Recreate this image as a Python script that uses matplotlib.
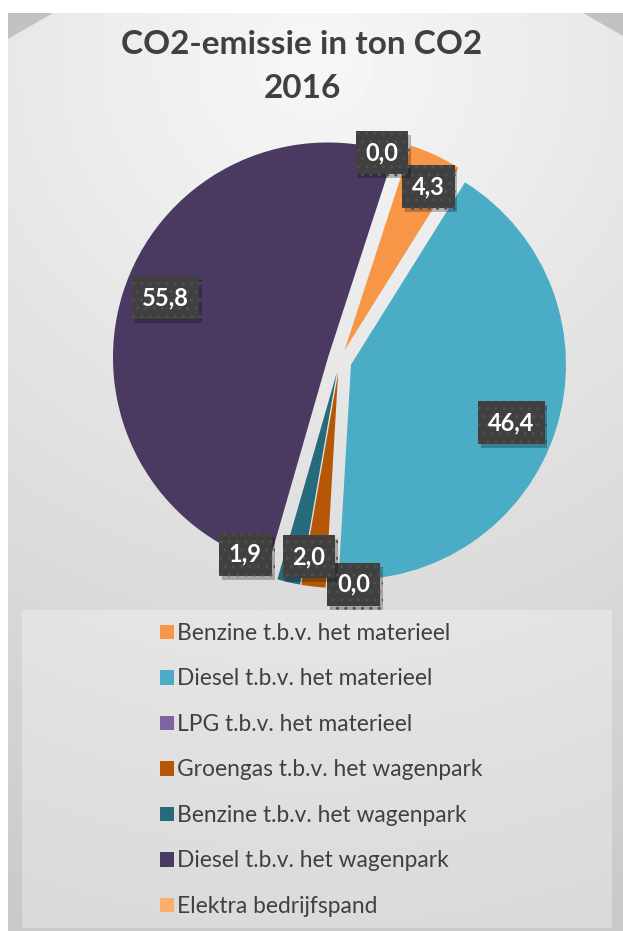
import numpy as np
import matplotlib
matplotlib.use('Agg')
import matplotlib.pyplot as plt
from matplotlib.patches import Polygon, Rectangle, Patch
import matplotlib.patheffects as pe

# data
categories = ['Benzine t.b.v. het materieel', 'Diesel t.b.v. het materieel',
              'LPG t.b.v. het materieel', 'Groengas t.b.v. het wagenpark',
              'Benzine t.b.v. het wagenpark', 'Diesel t.b.v. het wagenpark',
              'Elektra bedrijfspand']
emissions = [4.3, 46.4, 0.0, 2.0, 1.9, 55.8, 0.0]
colors = ['#F79646', '#4BACC6', '#8064A2', '#B65708', '#276A7C', '#4A3960', '#FAAE6E']
title_lines = ['CO2-emissie in ton CO2', '2016']

# label placement: (shift in degrees clockwise from wedge middle, distance in radii)
label_place = [(2, 0.91), (2, 0.85), (-7, 1.04), (2.3, 0.92), (13, 1.0), (3, 0.86), (-6.5, 0.99)]

W, H = 623, 931
plt.rcParams['font.family'] = ['Lato', 'DejaVu Sans']
fig = plt.figure(figsize=(W / 100, H / 100), dpi=100)
fig.patch.set_facecolor('white')

## background: chart area with soft gradient and bevelled corners
bg = fig.add_axes([0, 0, 1, 1])
x0, y0 = 8, 13
yy, xx = np.mgrid[y0:H, x0:W]
d = np.hypot(xx - 314, yy - 60)
shade = (247 - d * 46 / 910) / 255
bg.imshow(shade, cmap='gray', vmin=0, vmax=1, extent=(x0, W, H, y0),
          aspect='auto', zorder=0, interpolation='bilinear')
bg.add_patch(Polygon([(x0, y0), (53, y0), (x0, 39)], closed=True, fc='#c2c2c2', ec='none', zorder=1))
bg.add_patch(Polygon([(583, y0), (W, y0), (W, 36)], closed=True, fc='#c2c2c2', ec='none', zorder=1))
bg.add_patch(Rectangle((22, 610), 590, 318, fc='white', alpha=0.3, ec='none', zorder=1))
bg.set_xlim(0, W)
bg.set_ylim(H, 0)
bg.axis('off')

## pie
cx, cy, R = 339.5, 361, 215
pie_ax = fig.add_axes([(cx - 1.25 * R) / W, (H - cy - 1.25 * R) / H, 2.5 * R / W, 2.5 * R / H])
wedges, _ = pie_ax.pie(emissions, colors=colors, startangle=72, counterclock=False,
                       explode=[0.056] * len(emissions), wedgeprops=dict(linewidth=0))
pie_ax.set_xlim(-1.25, 1.25)
pie_ax.set_ylim(-1.25, 1.25)

for w, v, (shift, dist) in zip(wedges, emissions, label_place):
    mid = np.deg2rad((w.theta1 + w.theta2) / 2 - shift)
    t = pie_ax.text(dist * np.cos(mid), dist * np.sin(mid), f'{v:.1f}'.replace('.', ','),
                    ha='center', va='center', color='white', fontsize=17, fontweight='bold',
                    bbox=dict(boxstyle='square,pad=0.42', fc='#404040', ec='#4f4f4f', lw=0, hatch='..'))
    t.get_bbox_patch().set_path_effects([pe.SimplePatchShadow(offset=(2, -3), shadow_rgbFace='k', alpha=0.25),
                                         pe.Normal()])

## title and legend
for line, ypx in zip(title_lines, [45, 88]):
    fig.text(302 / W, 1 - ypx / H, line, ha='center', va='center', fontsize=24,
             fontweight='bold', color='#404040')

handles = [Patch(fc=c, ec='none') for c in colors]
fig.legend(handles, categories, loc='upper left', bbox_to_anchor=(160 / W, 1 - 623 / H),
           frameon=False, fontsize=16.4, labelcolor='#404040', handlelength=0.62,
           handleheight=0.62, handletextpad=0.12, labelspacing=1.075, borderpad=0, borderaxespad=0)

fig.savefig('out.png', dpi=100)
